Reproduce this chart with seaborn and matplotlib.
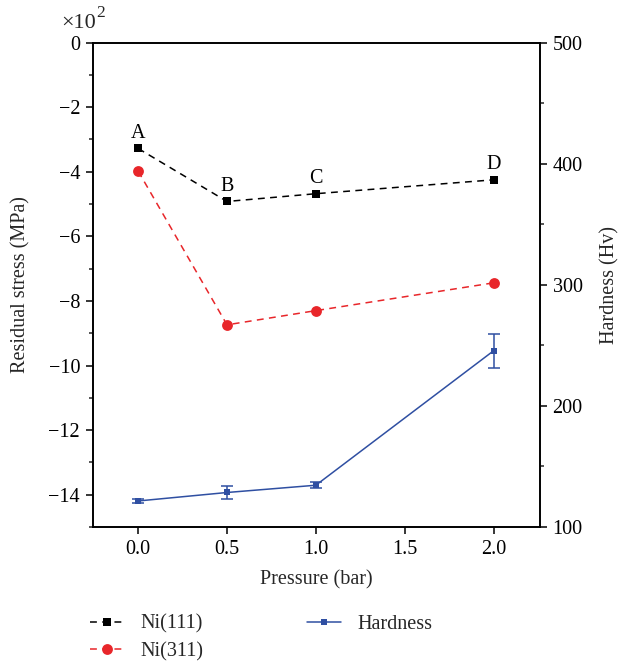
import matplotlib
matplotlib.use("Agg")
import matplotlib.pyplot as plt
import seaborn as sns
import pandas as pd
from matplotlib.ticker import MultipleLocator, FixedLocator

sns.set_theme(style="ticks")
plt.rcParams['font.family'] = ['Liberation Serif', 'DejaVu Serif']
plt.rcParams['axes.unicode_minus'] = True

pressure = [0.0, 0.5, 1.0, 2.0]
ni111 = [-3.28, -4.92, -4.68, -4.25]
ni311 = [-3.98, -8.74, -8.30, -7.44]
hardness = [121.5, 128.5, 134.5, 245.5]
hardness_err = [1.8, 5.5, 2.7, 13.8]
point_labels = ["A", "B", "C", "D"]

df = pd.DataFrame({"p": pressure, "n111": ni111, "n311": ni311, "h": hardness})

FS = 14.5
fig = plt.figure(figsize=(6.19, 6.65), dpi=100)
ax = fig.add_axes([0.150, 0.2075, 0.722, 0.7285])
ax2 = ax.twinx()

black = "#000000"
red = "#e8262a"
blue = "#2f4fa2"

sns.lineplot(data=df, x="p", y="n111", ax=ax, color=black, marker="s", markersize=6.3,
             markeredgewidth=0, linewidth=1.1, dashes=False, label="Ni(111)")
sns.lineplot(data=df, x="p", y="n311", ax=ax, color=red, marker="o", markersize=7.8,
             markeredgewidth=0, linewidth=1.1, dashes=False, label="Ni(311)")
for l in ax.lines:
    l.set_linestyle((0, (4.5, 3.5)))

sns.lineplot(data=df, x="p", y="h", ax=ax2, color=blue, marker="s", markersize=4.2,
             markeredgewidth=0, linewidth=1.1, label="Hardness")
ax2.errorbar(pressure, hardness, yerr=hardness_err, fmt="none", ecolor=blue,
             elinewidth=1.1, capsize=4.6, capthick=1.1)

for x, y, t in zip(pressure, ni111, point_labels):
    ax.annotate(t, (x, y), xytext=(0, 4), textcoords="offset points",
                ha="center", va="bottom", fontsize=FS, color="black")

ax.set_xlim(-0.255, 2.26)
ax.set_ylim(-15, 0)
ax2.set_ylim(100, 500)

ax.xaxis.set_major_locator(FixedLocator([0.0, 0.5, 1.0, 1.5, 2.0]))
ax.set_xticklabels(["0.0", "0.5", "1.0", "1.5", "2.0"])
ax.set_yticks(list(range(0, -15, -2)))
ax.yaxis.set_minor_locator(MultipleLocator(1))
ax.set_yticklabels(["0" if v == 0 else "\u2212" + str(-v) for v in range(0, -15, -2)])
ax2.yaxis.set_major_locator(MultipleLocator(100))
ax2.yaxis.set_minor_locator(MultipleLocator(50))

for a in (ax, ax2):
    a.tick_params(axis="both", which="major", direction="out", length=5.2, width=1.1,
                  labelsize=FS, colors="black", pad=4)
    a.tick_params(axis="both", which="minor", direction="out", length=2.6, width=1.1)
    for s in a.spines.values():
        s.set_linewidth(1.2)
        s.set_color("black")

ax.set_xlabel("Pressure (bar)", fontsize=FS)
ax.set_ylabel("Residual stress (MPa)", fontsize=FS)
ax2.set_ylabel("Hardness (Hv)", fontsize=FS)
ax.xaxis.set_label_coords(0.5, -0.09)
ax.yaxis.set_label_coords(-0.14, 0.5)
ax2.yaxis.set_label_coords(1.135, 0.5)

ax.text(-0.032, 1.02, "\u00d710", transform=ax.transAxes, ha="center",
        va="bottom", fontsize=16)
ax.text(0.008, 1.045, "2", transform=ax.transAxes, ha="left",
        va="bottom", fontsize=12.5)

h1, l1 = ax.get_legend_handles_labels()
h2, l2 = ax2.get_legend_handles_labels()
if ax.get_legend():
    ax.get_legend().remove()
if ax2.get_legend():
    ax2.get_legend().remove()
fig.legend(h1 + h2, l1 + l2, ncol=2, loc="upper left", bbox_to_anchor=(0.145, 0.076),
           frameon=False, fontsize=FS, handlelength=1.7, columnspacing=5.15,
           labelspacing=0.4, handletextpad=0.8, borderaxespad=0, borderpad=0)

fig.savefig("out.png", dpi=100)
